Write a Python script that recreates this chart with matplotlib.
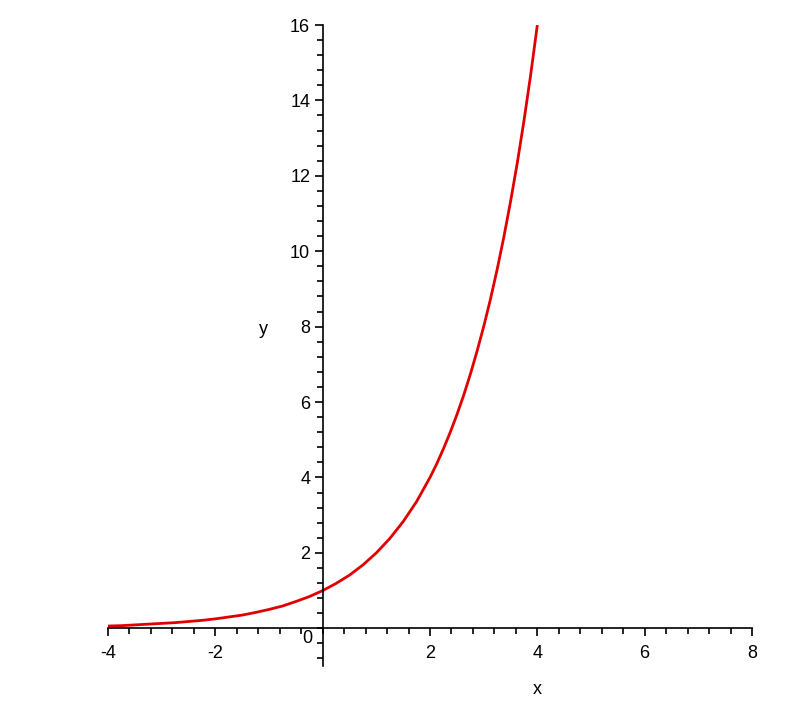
import numpy as np
import matplotlib.pyplot as plt
from matplotlib.ticker import MultipleLocator

# curve points (finer step where it bends fast)
x_vals = [-4.0, -3.75, -3.5, -3.25, -3.0, -2.75, -2.5, -2.25, -2.0, -1.75, -1.5,
          -1.25, -1.0, -0.75, -0.5, -0.25, 0.0, 0.25, 0.5, 0.75, 1.0, 1.25, 1.5,
          1.75, 2.0, 2.125, 2.25, 2.375, 2.5, 2.625, 2.75, 2.875, 3.0, 3.125,
          3.25, 3.375, 3.5, 3.625, 3.75, 3.875, 4.0]
y_vals = [0.06, 0.07, 0.09, 0.11, 0.13, 0.15, 0.18, 0.21, 0.25, 0.30, 0.35,
          0.42, 0.50, 0.59, 0.71, 0.84, 1.00, 1.19, 1.41, 1.68, 2.00, 2.38, 2.83,
          3.36, 4.00, 4.36, 4.76, 5.19, 5.66, 6.17, 6.73, 7.34, 8.00, 8.72,
          9.51, 10.37, 11.31, 12.33, 13.45, 14.67, 16.00]

xticks = [-4, -2, 2, 4, 6, 8]
yticks = [2, 4, 6, 8, 10, 12, 14, 16]

plt.rcParams['font.family'] = ['Liberation Sans', 'DejaVu Sans']

fig = plt.figure(figsize=(7.89, 7.05), dpi=100)
ax = fig.add_axes([108 / 789, 1 - 666 / 705, 644 / 789, (666 - 25) / 705])

ax.plot(x_vals, y_vals, color='#e00000', lw=2.0, solid_capstyle='butt')

ax.set_xlim(-4, 8)
ax.set_ylim(-1, 16)

ax.spines['left'].set_position(('data', 0))
ax.spines['bottom'].set_position(('data', 0))
ax.spines['top'].set_visible(False)
ax.spines['right'].set_visible(False)
for s in ['left', 'bottom']:
    ax.spines[s].set_linewidth(1.2)

ax.set_xticks(xticks)
ax.set_xticklabels([str(t) for t in xticks])
ax.set_yticks(yticks)
ax.set_yticklabels([str(t) for t in yticks])
ax.xaxis.set_minor_locator(MultipleLocator(0.4))
ax.yaxis.set_minor_locator(MultipleLocator(0.4))

ax.tick_params(axis='both', which='major', direction='out', length=6, width=1.2,
               labelsize=13, pad=3)
ax.tick_params(axis='both', which='minor', direction='out', length=4, width=1.2)
ax.tick_params(axis='x', which='major', pad=6)

# shared origin label
ax.annotate('0', xy=(0, 0), xytext=(-11, -1), textcoords='offset points',
            ha='center', va='top', fontsize=13)

# axis names
fig.text(537 / 789, 1 - 690 / 705, 'x', ha='center', va='center', fontsize=13)
fig.text(263 / 789, 1 - 330 / 705, 'y', ha='center', va='center', fontsize=13)

fig.savefig('out.png', dpi=100)
